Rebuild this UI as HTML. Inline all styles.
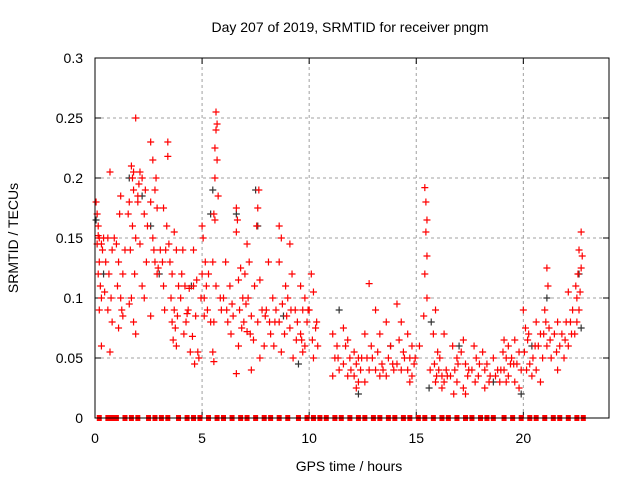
<!DOCTYPE html>
<html><head><meta charset="utf-8"><style>
body{margin:0;background:#fff}
svg{display:block;font-family:"Liberation Sans",sans-serif}
</style></head><body>
<svg id="chart" width="640" height="480">
<text x="350" y="32" font-size="14" text-anchor="middle">Day 207 of 2019, SRMTID for receiver pngm</text>
<text x="349" y="471" font-size="14" text-anchor="middle">GPS time / hours</text>
<text transform="translate(18,238) rotate(-90)" font-size="14" text-anchor="middle">SRMTID / TECUs</text>
<g id="grid"></g><g id="ticks"></g><g id="black"></g><g id="red"></g><g id="zeros"></g>
<rect x="95" y="58" width="514" height="360" fill="none" stroke="#000" stroke-width="1"/>
</svg>
<script>
const xTicks=[0,5,10,15,20];
const yTicks=[0,0.05,0.1,0.15,0.2,0.25,0.3];
const yTickLabels=["0","0.05","0.1","0.15","0.2","0.25","0.3"];
const redPts=[[0.05,0.18],[0.1,0.17],[0.15,0.16],[0.2,0.15],[0.1,0.145],[0.2,0.13],[0.15,0.12],[0.25,0.11],[0.3,0.1],[0.2,0.09],[0.3,0.06],[0.4,0.15],[0.35,0.14],
[0.7,0.205],[0.6,0.15],[0.8,0.14],[0.65,0.12],[0.75,0.1],[0.6,0.09],[0.8,0.08],[0.7,0.055],[0.5,0.13],
[1.2,0.185],[1.15,0.17],[1.0,0.145],[1.1,0.13],[1.2,0.1],[1.3,0.085],[1.1,0.075],[1.4,0.14],[1.3,0.12],
[1.7,0.21],[1.75,0.2],[1.8,0.19],[1.6,0.18],[1.9,0.15],[1.65,0.14],[1.85,0.12],[1.7,0.1],[1.6,0.095],[1.8,0.08],[1.9,0.07],[1.8,0.205],
[1.9,0.25],[2.1,0.205],[2.2,0.2],[2.0,0.185],[2.3,0.17],[2.1,0.145],[2.4,0.13],[2.2,0.11],[2.3,0.1],[2.0,0.18],
[2.6,0.23],[2.7,0.215],[2.8,0.19],[2.6,0.18],[2.9,0.175],[2.7,0.15],[2.8,0.13],[2.9,0.12],[2.6,0.085],[2.85,0.2],
[3.4,0.23],[3.4,0.218],[3.2,0.175],[3.35,0.16],[3.45,0.145],[3.3,0.14],[3.5,0.13],[3.2,0.11],[3.25,0.09],
[3.7,0.155],[3.8,0.14],[3.6,0.12],[3.9,0.11],[3.7,0.09],[3.6,0.08],[3.75,0.075],[3.65,0.065],[3.8,0.06],
[4.1,0.14],[4.2,0.11],[4.0,0.1],[4.35,0.09],[4.3,0.087],[4.15,0.07],[4.4,0.108],
[4.6,0.14],[4.75,0.115],[4.6,0.11],[4.7,0.085],[4.55,0.068],[4.8,0.055],[4.65,0.045],[4.85,0.05],
[5.0,0.16],[5.05,0.15],[5.15,0.13],[5.0,0.12],[5.2,0.11],[5.1,0.1],[5.25,0.09],[5.4,0.08],
[5.65,0.255],[5.7,0.245],[5.65,0.24],[5.6,0.225],[5.7,0.215],[5.6,0.2],[5.75,0.185],[5.55,0.17],[5.6,0.165],[5.5,0.13],[5.65,0.11],[5.55,0.08],[5.5,0.055],[5.55,0.047],
[6.1,0.13],[6.3,0.11],[6.0,0.1],[6.4,0.095],[6.2,0.08],[6.35,0.07],
[6.6,0.175],[6.65,0.165],[6.6,0.155],[6.8,0.125],[6.7,0.115],[6.9,0.1],[6.75,0.09],[6.85,0.075],[6.7,0.06],[6.6,0.037],
[7.1,0.145],[7.2,0.13],[7.0,0.12],[7.15,0.1],[7.3,0.085],[7.1,0.072],[7.4,0.065],[7.3,0.04],
[7.65,0.19],[7.6,0.175],[7.55,0.16],[7.7,0.115],[7.8,0.09],[7.6,0.08],[7.9,0.06],[7.7,0.05],
[8.1,0.13],[8.3,0.1],[8.0,0.09],[8.4,0.08],[8.2,0.07],[8.35,0.06],
[8.6,0.16],[8.7,0.15],[8.6,0.13],[8.9,0.11],[8.75,0.095],[8.6,0.08],[8.85,0.07],[8.7,0.055],
[9.1,0.145],[9.2,0.12],[9.0,0.1],[9.35,0.09],[9.1,0.075],[9.4,0.065],[9.25,0.05],
[9.6,0.11],[9.8,0.1],[9.7,0.09],[9.9,0.08],[9.6,0.07],[9.8,0.06],[9.7,0.055],
[10.1,0.12],[10.2,0.105],[10.0,0.09],[10.3,0.075],[10.15,0.065],[10.4,0.06],[10.2,0.05],
[11.1,0.07],[11.3,0.06],[11.2,0.05],[11.4,0.04],[11.1,0.035],
[11.6,0.075],[11.8,0.065],[11.7,0.06],[11.9,0.05],[11.6,0.045],[11.8,0.035],
[12.1,0.055],[12.3,0.05],[12.2,0.045],[12.4,0.04],[12.1,0.035],[12.3,0.03],[12.2,0.025],
[12.8,0.112],[12.6,0.07],[12.9,0.06],[12.7,0.05],[12.8,0.04],[12.6,0.03],
[13.1,0.09],[13.3,0.07],[13.2,0.055],[13.4,0.045],[13.1,0.04],[13.3,0.035],
[13.6,0.08],[13.8,0.06],[13.7,0.05],[13.9,0.045],[13.6,0.035],
[14.1,0.095],[14.3,0.08],[14.2,0.065],[14.4,0.055],[14.1,0.045],[14.3,0.04],
[14.6,0.07],[14.8,0.06],[14.7,0.05],[14.9,0.045],[14.6,0.04],[14.8,0.035],[14.7,0.03],
[15.4,0.192],[15.45,0.18],[15.5,0.165],[15.45,0.155],[15.5,0.135],[15.4,0.12],[15.5,0.1],[15.35,0.085],
[15.9,0.09],[15.8,0.07],[16.0,0.055],[15.85,0.045],[15.95,0.035],[15.9,0.03],
[16.3,0.07],[16.1,0.05],[16.4,0.04],[16.2,0.035],[16.3,0.03],[16.2,0.025],
[16.7,0.06],[16.9,0.05],[16.8,0.04],[16.6,0.035],[16.9,0.03],[16.75,0.02],
[17.2,0.065],[17.1,0.055],[17.3,0.045],[17.4,0.035],[17.2,0.025],[17.3,0.02],
[17.7,0.06],[17.8,0.05],[17.6,0.04],[17.9,0.035],[17.75,0.03],
[18.1,0.055],[18.3,0.045],[18.2,0.04],[18.4,0.03],[18.2,0.025],
[18.6,0.05],[18.8,0.04],[18.7,0.035],[18.9,0.03],
[19.1,0.065],[19.3,0.06],[19.2,0.05],[19.4,0.045],[19.1,0.04],[19.3,0.035],[19.2,0.03],
[19.6,0.065],[19.8,0.055],[19.7,0.045],[19.9,0.04],[19.6,0.03],[19.8,0.025],
[20.0,0.09],[20.1,0.075],[20.2,0.065],[20.05,0.055],[20.3,0.045],[20.15,0.04],[20.4,0.035],
[20.6,0.08],[20.8,0.07],[20.7,0.06],[20.9,0.05],[20.6,0.04],[20.8,0.03],
[21.1,0.125],[21.15,0.11],[21.0,0.09],[21.2,0.075],[21.1,0.06],[21.3,0.05],
[21.6,0.08],[21.8,0.07],[21.7,0.06],[21.9,0.05],[21.6,0.04],
[22.1,0.105],[22.3,0.09],[22.2,0.08],[22.4,0.07],[22.1,0.06],
[22.7,0.155],[22.6,0.14],[22.7,0.125],[22.5,0.1],[22.6,0.09],[22.5,0.08],
[0.15,0.152],[0.3,0.145],[0.45,0.105],[0.9,0.15],[1.05,0.11],[1.25,0.09],[1.55,0.17],[1.75,0.16],[2.05,0.195],[2.35,0.19],[2.45,0.16],[2.75,0.14],[2.95,0.125],[3.05,0.14],[3.15,0.13],[3.55,0.1],[3.85,0.085],[4.05,0.12],[4.25,0.08],[4.45,0.055],[4.95,0.1],[5.1,0.085],[5.3,0.12],[5.85,0.1],[5.9,0.09],[6.15,0.09],[6.45,0.085],[6.95,0.08],[7.05,0.095],[7.25,0.07],[7.45,0.11],[7.95,0.085],[8.15,0.08],[8.45,0.09],[8.95,0.085],[9.15,0.09],[9.45,0.08],[9.65,0.065],[9.95,0.09],[10.35,0.08],[11.35,0.05],[11.95,0.04],[12.45,0.05],[12.95,0.05],[13.45,0.04],[13.95,0.04],[14.45,0.05],[14.95,0.05],[15.15,0.06],[15.65,0.04],[16.05,0.04],[16.45,0.035],[16.95,0.045],[17.45,0.04],[17.95,0.045],[18.45,0.035],[18.95,0.04],[19.05,0.055],[19.45,0.05],[19.55,0.045],[20.25,0.07],[20.45,0.05],[20.55,0.06],[20.95,0.07],[21.05,0.08],[21.25,0.065],[21.45,0.07],[21.55,0.055],[21.95,0.065],[22.0,0.08],[22.25,0.07],[22.45,0.11],[22.55,0.12],[22.65,0.105],[22.75,0.135]];
const blackPts=[[0.05,0.165],[0.4,0.12],[1.6,0.2],[2.2,0.185],[2.6,0.16],[3.0,0.12],[4.5,0.11],[5.5,0.19],[5.4,0.17],[6.6,0.17],[7.5,0.19],[7.6,0.16],[8.8,0.085],[9.5,0.045],[11.4,0.09],[12.3,0.02],[13.8,0.06],[15.7,0.08],[15.6,0.025],[17.0,0.06],[18.6,0.03],[19.9,0.02],[20.4,0.06],[21.1,0.1],[22.6,0.12],[22.7,0.075]];
const zeroTimes=[0.2,0.6,0.8,1.0,1.4,1.7,2.0,2.5,2.8,3.1,3.4,3.9,4.3,4.6,4.9,5.3,5.7,6.0,6.4,6.8,7.1,7.5,7.9,8.2,8.6,9.0,9.5,9.9,10.2,10.5,10.8,11.2,11.5,11.9,12.3,12.6,13.0,13.3,13.7,14.0,14.4,14.7,15.1,15.4,15.8,16.2,16.5,16.9,17.3,17.6,18.0,18.3,18.6,19.1,19.5,19.9,20.3,20.6,21.0,21.4,21.7,22.1,22.5,22.8];
const X0=95,X1=609,Y0=418,Y1=58,XMAX=24,YMAX=0.3;
const sx=h=>X0+h/XMAX*(X1-X0);
const sy=v=>Y0-v/YMAX*(Y0-Y1);
const NS="http://www.w3.org/2000/svg";
function mk(tag,attrs,parent){const e=document.createElementNS(NS,tag);for(const k in attrs)e.setAttribute(k,attrs[k]);parent.appendChild(e);return e;}
const grid=document.getElementById('grid'),ticks=document.getElementById('ticks');
yTicks.forEach((v,i)=>{
  if(v>0&&v<YMAX){const g=mk('line',{x1:X0,x2:X1,y1:sy(v),y2:sy(v),stroke:'#a0a0a0','stroke-dasharray':'3,3'},grid);
  
  }
  mk('line',{x1:X0,x2:X0+6,y1:sy(v),y2:sy(v),stroke:'#000'},ticks);
  mk('line',{x1:X1,x2:X1-6,y1:sy(v),y2:sy(v),stroke:'#000'},ticks);
  const t=mk('text',{x:X0-12,y:sy(v)+5,'font-size':14,'text-anchor':'end'},ticks);t.textContent=yTickLabels[i];
  
  
});
xTicks.forEach(h=>{
  if(h>0){const g=mk('line',{x1:sx(h),x2:sx(h),y1:Y0,y2:Y1,stroke:'#a0a0a0','stroke-dasharray':'3,3'},grid);
  
  }
  mk('line',{x1:sx(h),x2:sx(h),y1:Y0,y2:Y0-6,stroke:'#000'},ticks);
  mk('line',{x1:sx(h),x2:sx(h),y1:Y1,y2:Y1+6,stroke:'#000'},ticks);
  const t=mk('text',{x:sx(h),y:Y0+25,'font-size':14,'text-anchor':'middle'},ticks);t.textContent=String(h);
  
  
});
function plus(parent,x,y,c,name){
  const p=mk('path',{d:`M${x-3.5} ${y}h7M${x} ${y-3.5}v7`,stroke:c,'stroke-width':1.2,fill:'none'},parent);
  
  
}
blackPts.forEach(p=>plus(document.getElementById('black'),sx(p[0]),sy(p[1]),'#333','black-point'));
redPts.forEach(p=>plus(document.getElementById('red'),sx(p[0]),sy(p[1]),'#f00','red-point'));
zeroTimes.forEach(h=>{
  const r=mk('rect',{x:sx(h)-2.5,y:Y0-3,width:5,height:6,fill:'#f00'},document.getElementById('zeros'));
  
  
});
</script>
</body></html>
